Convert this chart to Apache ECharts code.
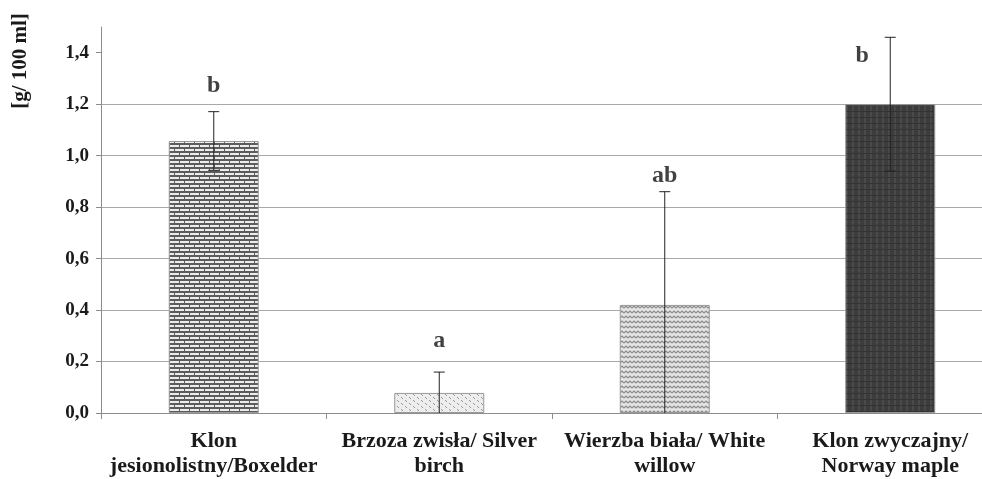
<!DOCTYPE html>
<html>
<head>
<meta charset="utf-8">
<script src="https://cdn.jsdelivr.net/npm/echarts@6/dist/echarts.min.js"></script>
<style>
  html, body { margin: 0; padding: 0; background: #fff; }
  #main { width: 982px; height: 479px; }
</style>
</head>
<body>
<div id="main"></div>
<script>
// dane
const categories = ['Klon\njesionolistny/Boxelder', 'Brzoza zwisła/ Silver\nbirch', 'Wierzba biała/ White\nwillow', 'Klon zwyczajny/\nNorway maple']
const means = [1.057, 0.078, 0.42, 1.2]   // [g/ 100 ml]
const errors = [0.114, 0.081, 0.44, 0.26] // odchylenie
const letters = ['b', 'a', 'ab', 'b']     // grupy jednorodne
const letterPos = [1.27, 0.28, 0.92, 1.39]
const yTicks = [0, 0.2, 0.4, 0.6, 0.8, 1.0, 1.2, 1.4]

const FONT = '"Liberation Serif", "DejaVu Serif", serif'

// wzory wypełnienia słupków
function makePattern(w, h, draw) {
  const c = document.createElement('canvas')
  c.width = w
  c.height = h
  draw(c.getContext('2d'))
  return { image: c, repeat: 'repeat' }
}

const brick = makePattern(10, 8, function (ctx) {
  ctx.fillStyle = '#5c5c5c'
  ctx.fillRect(0, 0, 10, 8)
  ctx.fillStyle = '#ececec'
  ctx.fillRect(0, 1, 9, 2)
  ctx.fillRect(5, 5, 9, 2)
  ctx.fillRect(0, 5, 4, 2)
})

const dots = makePattern(8, 6, function (ctx) {
  ctx.fillStyle = '#ededed'
  ctx.fillRect(0, 0, 8, 6)
  ctx.fillStyle = '#9a9a9a'
  ctx.fillRect(1, 1, 1, 1)
  ctx.fillRect(2, 2, 1, 1)
  ctx.fillRect(5, 4, 1, 1)
  ctx.fillRect(6, 5, 1, 1)
})

const zigzag = makePattern(8, 5, function (ctx) {
  ctx.fillStyle = '#e4e4e4'
  ctx.fillRect(0, 0, 8, 5)
  ctx.strokeStyle = '#8a8a8a'
  ctx.lineWidth = 1.2
  ctx.beginPath()
  ctx.moveTo(0, 3)
  ctx.lineTo(2, 1)
  ctx.lineTo(4, 3)
  ctx.lineTo(6, 1)
  ctx.lineTo(8, 3)
  ctx.stroke()
})

const dark = makePattern(6, 6, function (ctx) {
  ctx.fillStyle = '#3c3c3c'
  ctx.fillRect(0, 0, 6, 6)
  ctx.fillStyle = '#4a4a4a'
  ctx.fillRect(0, 0, 2, 6)
  ctx.fillStyle = '#333'
  ctx.fillRect(0, 3, 6, 1)
})

const fills = [brick, dots, zigzag, dark]

const chart = echarts.init(document.getElementById('main'))

chart.setOption({
  animation: false,
  grid: {
    left: 101,
    top: 27,
    width: 902,
    height: 386,
    outerBoundsMode: 'none',
    containLabel: false
  },
  graphic: [{
    type: 'text',
    x: 21,
    y: 61,
    rotation: Math.PI / 2,
    style: {
      text: '[g/ 100 ml]',
      font: 'bold 21px ' + FONT,
      fill: '#1a1a1a',
      align: 'center',
      verticalAlign: 'middle'
    }
  }],
  xAxis: {
    type: 'category',
    data: categories,
    axisLine: { lineStyle: { color: '#8c8c8c', width: 1 } },
    axisTick: { show: true, length: 6, lineStyle: { color: '#8c8c8c' } },
    axisLabel: {
      interval: 0,
      margin: 16,
      color: '#1a1a1a',
      fontFamily: FONT,
      fontWeight: 'bold',
      fontSize: 22,
      lineHeight: 25,
      align: 'center'
    }
  },
  yAxis: {
    type: 'value',
    min: 0,
    max: 1.5,
    interval: 0.2,
    axisLine: { show: true, lineStyle: { color: '#8c8c8c', width: 1 } },
    axisTick: { show: true, length: 5, customValues: yTicks, lineStyle: { color: '#8c8c8c' } },
    axisLabel: {
      customValues: yTicks,
      margin: 12,
      color: '#1a1a1a',
      fontFamily: FONT,
      fontWeight: 'bold',
      fontSize: 19,
      formatter: function (v) { return v.toFixed(1).replace('.', ',') }
    },
    splitLine: { show: true, showMaxLine: false, lineStyle: { color: '#a8a8a8', width: 1 } }
  },
  series: [
    {
      type: 'bar',
      barWidth: 90,
      data: means.map(function (v, i) {
        return { value: v, itemStyle: { color: fills[i] } }
      }),
      itemStyle: { borderColor: '#999', borderWidth: 1 },
      z: 2
    },
    {
      type: 'custom',
      z: 5,
      data: means.map(function (m, i) {
        return [i, Math.max(0, m - errors[i]), m + errors[i]]
      }),
      renderItem: function (params, api) {
        const x = api.coord([api.value(0), 0])[0]
        const lo = api.value(1)
        const pLow = api.coord([api.value(0), lo])
        const pHigh = api.coord([api.value(0), api.value(2)])
        const style = { stroke: '#222', lineWidth: 1 }
        const children = [
          { type: 'line', shape: { x1: x, y1: pLow[1], x2: x, y2: pHigh[1] }, style: style },
          { type: 'line', shape: { x1: x - 5.5, y1: pHigh[1], x2: x + 5.5, y2: pHigh[1] }, style: style }
        ]
        if (lo > 0) {
          children.push({ type: 'line', shape: { x1: x - 5.5, y1: pLow[1], x2: x + 5.5, y2: pLow[1] }, style: style })
        }
        return { type: 'group', children: children }
      }
    },
    {
      type: 'scatter',
      symbolSize: 0,
      z: 6,
      data: letterPos.map(function (v, i) {
        return {
          value: [i, v],
          label: { offset: i === 3 ? [-28, 0] : [0, 0] }
        }
      }),
      label: {
        show: true,
        position: 'inside',
        formatter: function (p) { return letters[p.dataIndex] },
        color: '#111',
        fontFamily: FONT,
        fontWeight: 'bold',
        fontSize: 24
      }
    }
  ]
})
</script>
</body>
</html>
